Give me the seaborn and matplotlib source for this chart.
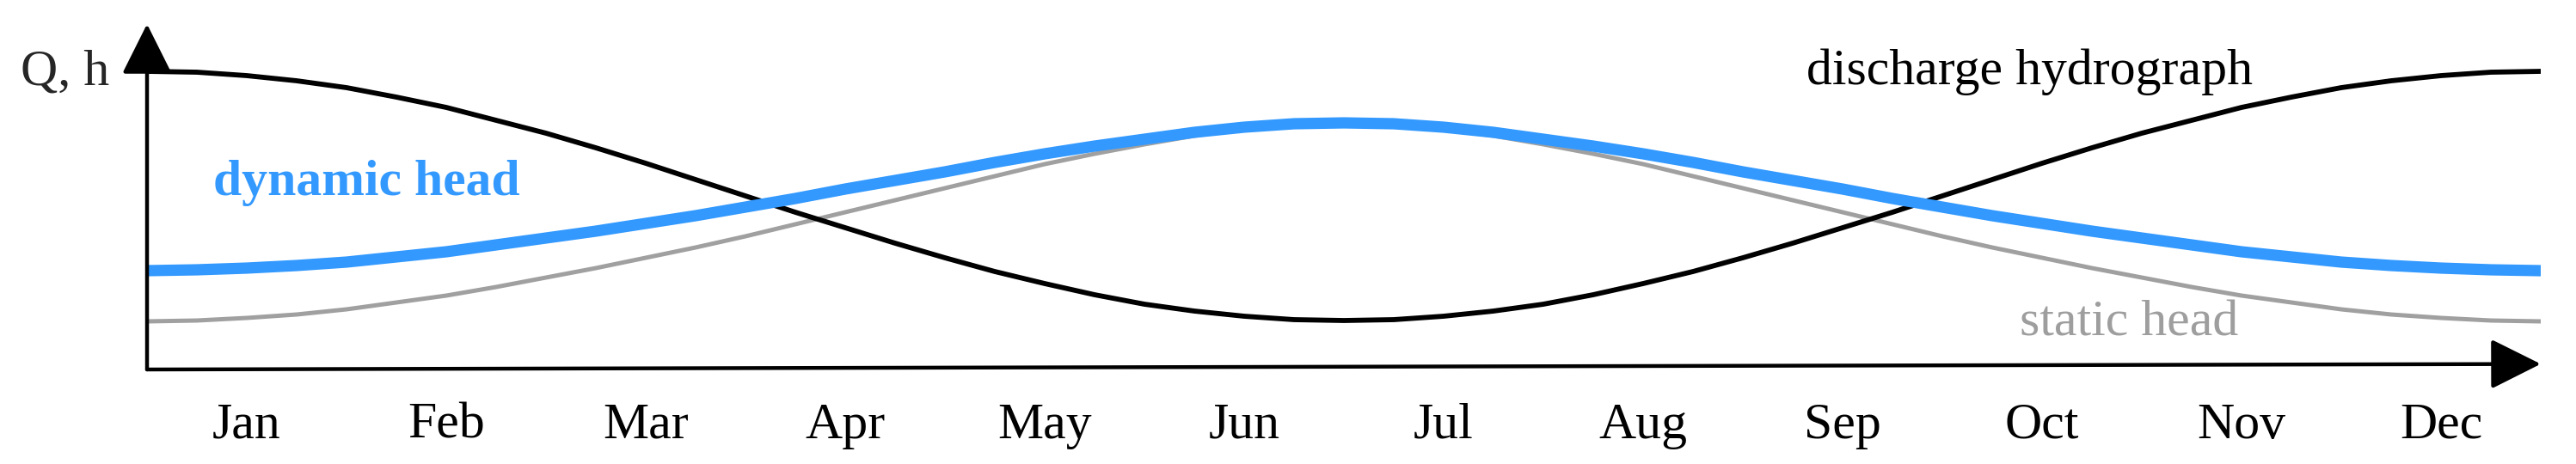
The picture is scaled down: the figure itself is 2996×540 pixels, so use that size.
import numpy as np
import pandas as pd
import seaborn as sns
import matplotlib.pyplot as plt

# sample grid (months from Jan 1), read every quarter month off the picture
t = np.arange(0, 12.25, 0.25)

discharge_half = [347, 346, 342, 336, 328, 317, 305, 290, 275, 258, 240, 221, 202,
                  183, 165, 147, 130, 114, 100, 87, 76, 68, 62, 58, 57]
dynamic_half = [115, 116, 118, 121, 125, 131, 137, 145, 153, 161, 170, 179, 189,
                199, 210, 220, 230, 241, 251, 260, 268, 276, 282, 286, 287]
static_half = [56, 57, 60, 64, 70, 78, 86, 96, 107, 118, 130, 142, 155,
               169, 183, 197, 211, 225, 239, 251, 262, 272, 280, 285, 287]

# second half of the year mirrors the first around July 1
discharge = discharge_half + discharge_half[-2::-1]
dynamic_head = dynamic_half + dynamic_half[-2::-1]
static_head = static_half + static_half[-2::-1]

months = ['Jan', 'Feb', 'Mar', 'Apr', 'May', 'Jun',
          'Jul', 'Aug', 'Sep', 'Oct', 'Nov', 'Dec']

df = pd.DataFrame({'t': t, 'Q': discharge, 'hdyn': dynamic_head, 'hstat': static_head})

sns.set_style('white')
plt.rcParams['font.family'] = ['Liberation Serif', 'DejaVu Serif']

BLUE = '#3399ff'
GREY = '#a0a0a0'
FS = 43

fig = plt.figure(figsize=(29.96, 5.4), dpi=100)
ax = fig.add_axes([0.05708, 0.2037, 0.92924, 0.74444])

sns.lineplot(data=df, x='t', y='hstat', color=GREY, lw=3.6, ax=ax)
sns.lineplot(data=df, x='t', y='Q', color='black', lw=4.2, ax=ax)
sns.lineplot(data=df, x='t', y='hdyn', color=BLUE, lw=9.5, ax=ax)

ax.set_xlim(0, 12)
ax.set_ylim(0, 402)
for s in ax.spines.values():
    s.set_visible(False)

# axis arrows
arrow = dict(arrowstyle='-|>,head_length=1.4,head_width=0.7', color='black',
             lw=3.2, shrinkA=0, shrinkB=0, mutation_scale=26)
ax.annotate('', xy=(1, 0.016), xytext=(0, 0), xycoords='axes fraction',
            textcoords='axes fraction', arrowprops=arrow, annotation_clip=False)
ax.annotate('', xy=(0, 1), xytext=(0, 0), xycoords='axes fraction',
            textcoords='axes fraction', arrowprops=arrow, annotation_clip=False)

ax.set_xticks(np.arange(12) + 0.5)
ax.set_xticklabels(months, fontsize=FS, color='black')
ax.tick_params(axis='x', length=0, pad=28)
ax.set_yticks([])
ax.set_xlabel('')
ax.set_ylabel('')

ax.text(-0.19, 332, 'Q, h', fontsize=FS, ha='right', va='baseline', clip_on=False)
ax.text(0.33, 203, 'dynamic head', fontsize=FS, color=BLUE, fontweight='bold',
        va='baseline')
ax.text(8.32, 332, 'discharge hydrograph', fontsize=FS, color='black', va='baseline')
ax.text(9.39, 40, 'static head', fontsize=FS, color='#9e9e9e', va='baseline')

fig.savefig('out.png', dpi=100)
